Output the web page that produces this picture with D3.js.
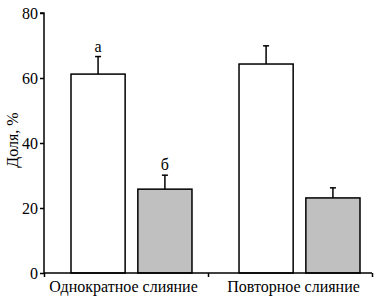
<!DOCTYPE html>
<html><head><meta charset="utf-8">
<script src="https://cdn.jsdelivr.net/npm/d3@7"></script>
<style>body{margin:0;background:#fff}svg{display:block}</style>
</head><body><svg id="c" width="378" height="299"></svg>
<script>
const groups = ["Однократное слияние", "Повторное слияние"];
const series = ["s1", "s2"];
const means = [[61.2, 25.8], [64.3, 23.1]];
const errs = [[5.4, 4.3], [5.6, 3.1]];
const marks = [["а", "б"], ["", ""]];
const yTicks = [0, 20, 40, 60, 80];
const fills = ["#ffffff", "#c0c0c0"];
const FONT = "Liberation Serif";

const svg = d3.select("#c");
const y = d3.scaleLinear().domain([0, 80]).range([273, 13]);
const x0 = d3.scaleBand().domain(groups).range([71, 360]).paddingInner(0.28);
const x1 = d3.scaleBand().domain(series).range([0, x0.bandwidth()]).paddingInner(0.19);
const xFrame = d3.scaleLinear().domain([0, 2]).range([44, 372]);

function serif(sel, size) {
  return sel.style("font-family", FONT, "important").style("font-size", size + "px", "important").attr("fill", "#000");
}

// bars
groups.forEach((g, gi) => {
  series.forEach((s, si) => {
    const xb = x0(g) + x1(s), w = x1.bandwidth(), cx = xb + w / 2;
    const v = means[gi][si], e = errs[gi][si];
    svg.append("line").attr("x1", cx).attr("x2", cx).attr("y1", y(v)).attr("y2", y(v + e))
      .attr("stroke", "#000").attr("stroke-width", 1.5);
    svg.append("line").attr("x1", cx - 3).attr("x2", cx + 3).attr("y1", y(v + e)).attr("y2", y(v + e))
      .attr("stroke", "#000").attr("stroke-width", 1.5);
    svg.append("rect").attr("x", xb).attr("y", y(v)).attr("width", w).attr("height", y(0) - y(v))
      .attr("fill", fills[si]).attr("stroke", "#000").attr("stroke-width", 1.5);
    if (marks[gi][si]) {
      serif(svg.append("text").attr("x", cx).attr("y", y(v + e) - 5).attr("text-anchor", "middle"), 16)
        .text(marks[gi][si]);
    }
  });
});

// y axis
const ya = svg.append("g").attr("transform", "translate(44,0)")
  .call(d3.axisLeft(y).tickValues(yTicks).tickSize(4).tickPadding(2));
ya.select(".domain").attr("stroke-width", 1.5).attr("d", `M-4,${y(80)}H0V${y(0)}`);
ya.selectAll(".tick line").attr("stroke-width", 1.5);
serif(ya.selectAll("text"), 16);

// x axis
const xa = svg.append("g").attr("transform", `translate(0,${y(0)})`)
  .call(d3.axisBottom(xFrame).tickValues([0, 1, 2]).tickSize(4).tickFormat(""));
xa.select(".domain").attr("stroke-width", 1.5).attr("d", `M44,0H372`);
xa.selectAll(".tick line").attr("stroke-width", 1.5);

groups.forEach((g, gi) => {
  serif(svg.append("text").attr("x", x0(g) + x0.bandwidth() / 2 - 8 + gi * 2).attr("y", 292)
    .attr("text-anchor", "middle"), 16).text(g);
});

serif(svg.append("text").attr("transform", "translate(18,140) rotate(-90)").attr("text-anchor", "middle"), 16)
  .text("Доля, %");
</script></body></html>
